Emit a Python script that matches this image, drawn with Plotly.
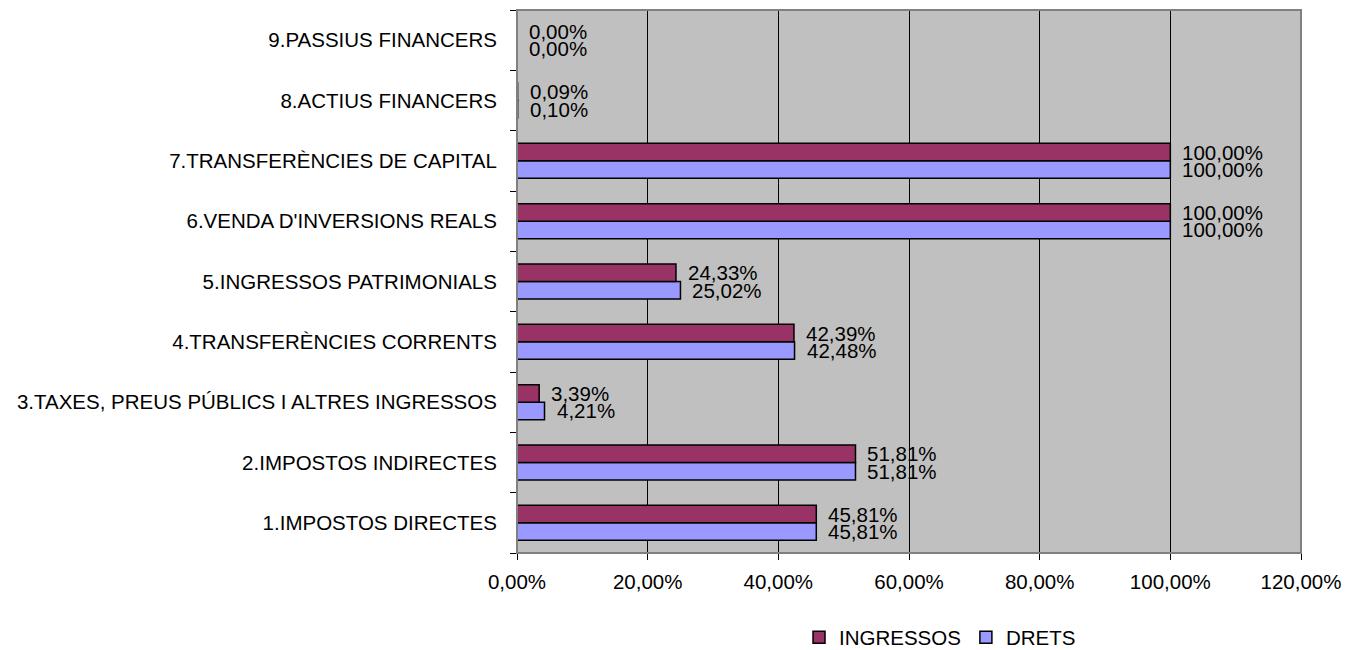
import plotly.graph_objects as go

categories = [
    "1.IMPOSTOS DIRECTES",
    "2.IMPOSTOS INDIRECTES",
    "3.TAXES, PREUS PÚBLICS I ALTRES INGRESSOS",
    "4.TRANSFERÈNCIES CORRENTS",
    "5.INGRESSOS PATRIMONIALS",
    "6.VENDA D'INVERSIONS REALS",
    "7.TRANSFERÈNCIES DE CAPITAL",
    "8.ACTIUS FINANCERS",
    "9.PASSIUS FINANCERS",
]
ingressos = [45.81, 51.81, 3.39, 42.39, 24.33, 100.00, 100.00, 0.09, 0.00]
drets = [45.81, 51.81, 4.21, 42.48, 25.02, 100.00, 100.00, 0.10, 0.00]
x_ticks = [0, 20, 40, 60, 80, 100, 120]

COL_ING = "#993366"
COL_DRE = "#9999FF"
FONT = "Liberation Sans, Arial, sans-serif"
FS = 20.5
BARGAP = 0.42


def fmt(v):
    return f"{v:.2f}".replace(".", ",") + "%"


fig = go.Figure()
fig.add_trace(go.Bar(
    y=categories, x=drets, orientation="h", name="DRETS",
    marker=dict(color=COL_DRE, line=dict(color="black", width=1.5)),
    hoverinfo="skip",
))
fig.add_trace(go.Bar(
    y=categories, x=ingressos, orientation="h", name="INGRESSOS",
    marker=dict(color=COL_ING, line=dict(color="black", width=1.5)),
    hoverinfo="skip",
))

off = (1 - BARGAP) / 4
annotations = []
for i, (vi, vd) in enumerate(zip(ingressos, drets)):
    for v, dy in ((vi, off), (vd, -off)):
        annotations.append(dict(
            x=v, y=i + dy, xref="x", yref="y", text=fmt(v),
            showarrow=False, xanchor="left", yanchor="middle", xshift=10,
            font=dict(family=FONT, size=FS, color="black"),
        ))

fig.update_layout(
    width=1351, height=642,
    barmode="group", bargap=BARGAP, bargroupgap=0,
    paper_bgcolor="white", plot_bgcolor="#C0C0C0",
    margin=dict(l=509, r=58, t=2, b=97, pad=0, autoexpand=False),
    font=dict(family=FONT, size=FS, color="black"),
    annotations=annotations,
    legend=dict(
        orientation="h", traceorder="reversed",
        x=0.3597, xanchor="left", y=-0.1555, yanchor="middle",
        font=dict(family=FONT, size=FS, color="black"),
        bgcolor="rgba(0,0,0,0)",
    ),
    shapes=[dict(type="rect", xref="paper", yref="paper", x0=0, x1=1, y0=0, y1=1,
                 line=dict(color="#808080", width=2), layer="above")],
)
fig.update_xaxes(
    range=[0, 120], tickvals=x_ticks, ticktext=[fmt(v) for v in x_ticks],
    showgrid=True, gridcolor="black", gridwidth=1,
    zeroline=False, showline=True, linecolor="black", linewidth=1,
    ticks="outside", ticklen=6, tickcolor="black", ticklabelstandoff=4,
    tickfont=dict(family=FONT, size=FS, color="black"),
)
fig.update_yaxes(
    type="category", categoryorder="array", categoryarray=categories,
    showgrid=False, zeroline=False, showline=True, linecolor="black", linewidth=1,
    ticks="outside", ticklen=6, tickcolor="black", tickson="boundaries",
    ticklabelstandoff=15,
    tickfont=dict(family=FONT, size=FS, color="black"),
)

fig.write_html("out.html")
